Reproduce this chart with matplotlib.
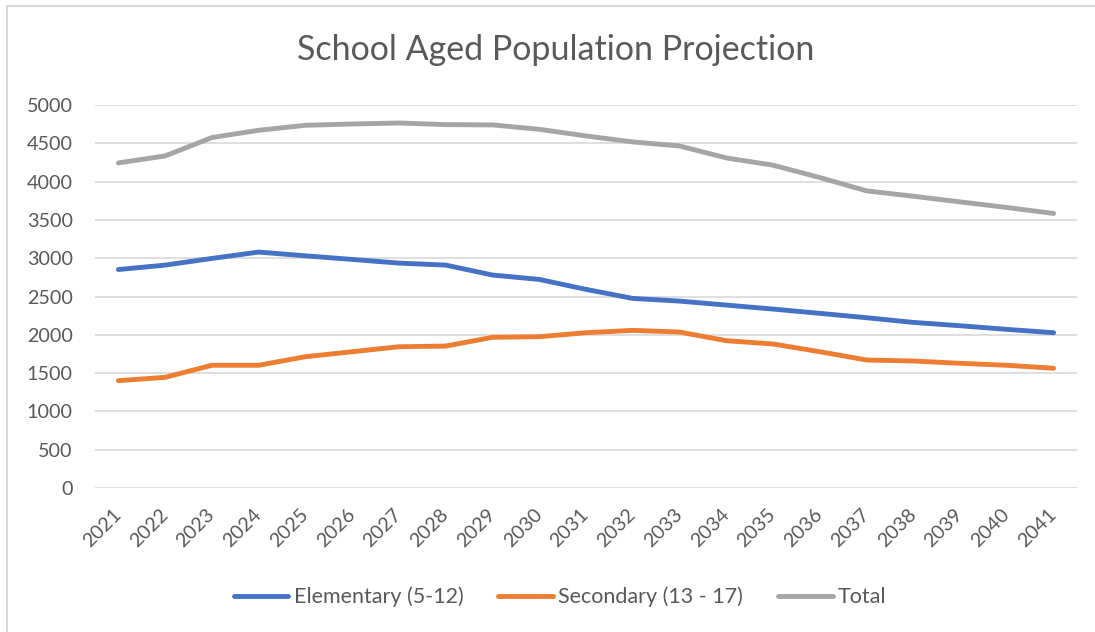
import matplotlib
matplotlib.use("Agg")
import matplotlib.pyplot as plt
from matplotlib.patches import Rectangle

# values
years = [str(y) for y in range(2021, 2042)]
elementary = [2852, 2910, 2997, 3080, 3031, 2984, 2936, 2910, 2780, 2723, 2593,
              2475, 2440, 2388, 2336, 2280, 2223, 2162, 2118, 2071, 2027]
secondary = [1401, 1445, 1602, 1602, 1714, 1779, 1844, 1853, 1967, 1975, 2027,
             2058, 2036, 1923, 1880, 1779, 1671, 1658, 1628, 1602, 1563]
total = [4244, 4335, 4575, 4670, 4735, 4752, 4765, 4744, 4740, 4683, 4596,
         4518, 4465, 4309, 4214, 4053, 3879, 3809, 3735, 3662, 3584]
yticks = [0, 500, 1000, 1500, 2000, 2500, 3000, 3500, 4000, 4500, 5000]

txt = "#595959"
plt.rcParams['font.family'] = ['Lato', 'DejaVu Sans']

W, H = 1095, 632
fig = plt.figure(figsize=(W / 100, H / 100), dpi=100)
ax = fig.add_axes([95 / W, 1 - 488 / H, (1077 - 95) / W, (488 - 105) / H])

x = list(range(len(years)))
ax.plot(x, elementary, color="#4472C4", lw=3.5, solid_capstyle="round", label="Elementary (5-12)")
ax.plot(x, secondary, color="#ED7D31", lw=3.5, solid_capstyle="round", label="Secondary (13 - 17)")
ax.plot(x, total, color="#A5A5A5", lw=3.5, solid_capstyle="round", label="Total")

ax.set_xlim(-0.5, len(years) - 0.5)
ax.set_ylim(0, 5000)
ax.set_yticks(yticks)
ax.set_yticklabels([str(v) for v in yticks])
ax.set_xticks(x)
ax.set_xticklabels(years, rotation=45, ha="right", va="center", rotation_mode="anchor")
ax.grid(axis="y", color="#D9D9D9", lw=1.2)
ax.set_axisbelow(True)
for s in ax.spines.values():
    s.set_visible(False)
ax.tick_params(axis="y", length=0, pad=16, labelsize=14.2, labelcolor=txt)
ax.tick_params(axis="x", length=0, pad=17, labelsize=14.2, labelcolor=txt)

fig.text(556 / W, 1 - 50 / H, "School Aged Population Projection", ha="center", va="center",
         fontsize=24.5, color=txt)

fig.legend(loc="center", bbox_to_anchor=(560 / W, 1 - 597 / H), ncol=3, frameon=False,
           fontsize=15.5, labelcolor=txt, handlelength=2.55, handletextpad=0.25,
           columnspacing=1.6)

# outer chart border (only top and left fall inside the picture)
fig.patches.append(Rectangle((7 / W, -0.1), 2, 1.1 - 6 / H, transform=fig.transFigure,
                             fill=False, edgecolor="#D9D9D9", lw=1.5))

fig.savefig("out.png", dpi=100)
